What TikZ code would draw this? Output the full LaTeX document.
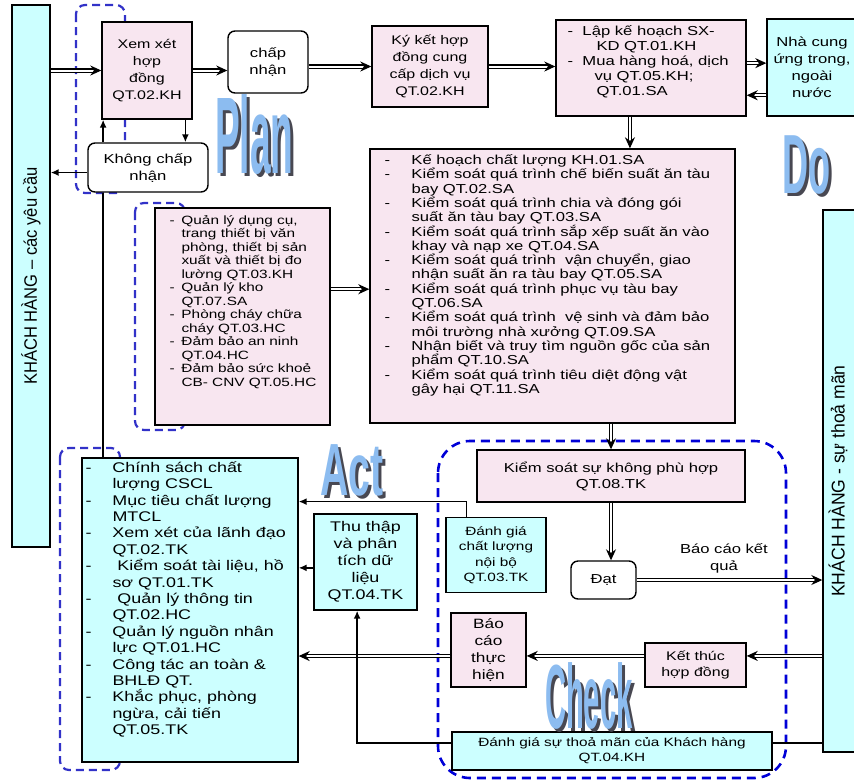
\documentclass[tikz,border=0pt]{standalone}
\usepackage{fontspec}
\setmainfont{Liberation Sans}[FakeStretch=1.28]
\newfontfamily\lbarfont{Liberation Sans}[FakeStretch=0.92]
\newfontfamily\rbarfont{Liberation Sans}[FakeStretch=0.95]
\newfontfamily\phasefont{Liberation Sans}
\usetikzlibrary{arrows.meta,calc}

\definecolor{pinkfill}{RGB}{248,230,240}
\definecolor{cyanfill}{RGB}{204,255,255}
\definecolor{phaseblue}{RGB}{140,188,240}
\definecolor{phaseshadow}{RGB}{72,72,82}
\definecolor{grpblue}{RGB}{50,50,200}
\definecolor{chkblue}{RGB}{0,0,215}

% list helpers: a dash in a fixed-width slot, and the matching hanging indent
\newcommand\bul[1]{\makebox[#1][l]{-}}
\newcommand\ind[1]{\hspace*{#1}}
\newcommand\fs[2]{\fontsize{#1}{#2}\selectfont}

\begin{document}
\begin{tikzpicture}[x=1pt, y=-1pt,
  box/.style={draw=black, line width=1.4pt, inner sep=0pt, align=center},
  pinkbox/.style={box, fill=pinkfill},
  cyanbox/.style={box, fill=cyanfill},
  roundbox/.style={box, fill=white, rounded corners=7pt},
  listtext/.style={anchor=north west, inner sep=0pt, align=left},
  bartext/.style={rotate=90, inner sep=0pt},
  grp/.style={draw=grpblue, line width=2.2pt, dash pattern=on 8pt off 5pt, rounded corners=9pt},
  chk/.style={draw=chkblue, line width=2.6pt, dash pattern=on 9pt off 6pt, rounded corners=32pt},
  dbl/.style={draw=black, line width=1.2pt, double=white, double distance=2pt, -{Stealth[length=11pt,width=10pt]}},
  arr/.style={draw=black, line width=1.5pt, -{Latex[length=8pt,width=7pt]}},
  ln/.style={draw=black, line width=1.5pt},
  phase/.style={anchor=base west, inner sep=0pt, font=\phasefont\bfseries},
]
\useasboundingbox (0,0) rectangle (854,780);
\fill[white] (0,0) rectangle (854,780);

% customer bars
\node[cyanbox, minimum width=38, minimum height=542] (lbar) at (31,276) {};
\node[bartext, font=\lbarfont\fs{18}{18}] (lbarlabel) at (lbar.center) {KHÁCH HÀNG – các yêu cầu};
\node[cyanbox, minimum width=34, minimum height=542] (rbar) at (840,481) {};
\node[bartext, font=\rbarfont\fs{18.5}{18.5}] (rbarlabel) at (838,481) {KHÁCH HÀNG - sự thoả mãn};

% dashed groupings
\draw[grp] (76,5) rectangle (125,193);
\draw[grp] (135,203) rectangle (185,430);
\draw[grp] (60,448) rectangle (120,770);
\draw[chk] (438,441) rectangle (786,778);

% Plan row
\node[pinkbox, minimum width=90, minimum height=97, font=\fs{12.5}{17}] (xem) at (147,70.5) {Xem xét\\hợp\\đồng\\QT.02.KH};
\node[roundbox, minimum width=80, minimum height=62, font=\fs{13}{17}] (acc) at (268,62) {chấp\\nhận};
\node[pinkbox, minimum width=116, minimum height=81, font=\fs{12.5}{17}] (ky) at (430,66.5) {Ký kết hợp\\đồng cung\\cấp dịch vụ\\QT.02.KH};
\node[pinkbox, minimum width=190, minimum height=96] (lap) at (651,68) {};
\node[listtext, font=\fs{13}{15}] (laptext) at ($(lap.north west)+(12,6)$) {\bul{15pt}Lập kế hoạch SX-\\\ind{29pt}KD QT.01.KH\\\bul{15pt}Mua hàng hoá, dịch\\\ind{27pt}vụ QT.05.KH;\\\ind{29pt}QT.01.SA};
\node[cyanbox, minimum width=90, minimum height=97, font=\fs{13}{17}] (nha) at (812,67.5) {Nhà cung\\ứng trong,\\ngoài\\nước};
\node[roundbox, minimum width=120, minimum height=49, font=\fs{13}{17}] (kcn) at (148,167.5) {Không chấp\\nhận};

% resources
\node[pinkbox, minimum width=175, minimum height=217] (ql) at (242.5,316.5) {};
\node[listtext, font=\fs{12}{13.5}] (qltext) at ($(ql.north west)+(15,8)$) {\bul{12pt}Quản lý dụng cụ,\\\ind{12pt}trang thiết bị văn\\\ind{12pt}phòng, thiết bị sản\\\ind{12pt}xuất và thiết bị đo\\\ind{12pt}lường QT.03.KH\\\bul{12pt}Quản lý kho\\\ind{12pt}QT.07.SA\\\bul{12pt}Phòng cháy chữa\\\ind{12pt}cháy QT.03.HC\\\bul{12pt}Đảm bảo an ninh\\\ind{12pt}QT.04.HC\\\bul{12pt}Đảm bảo sức khoẻ\\\ind{12pt}CB- CNV QT.05.HC};

% Do: production processes
\node[pinkbox, minimum width=365, minimum height=274] (kh) at (552.5,286) {};
\node[listtext, font=\fs{13}{14.3}] (khtext) at ($(kh.north west)+(15,6)$) {\bul{27pt}Kế hoạch chất lượng KH.01.SA\\\bul{27pt}Kiểm soát quá trình chế biến suất ăn tàu\\\ind{27pt}bay QT.02.SA\\\bul{27pt}Kiểm soát quá trình chia và đóng gói\\\ind{27pt}suất ăn tàu bay QT.03.SA\\\bul{27pt}Kiểm soát quá trình sắp xếp suất ăn vào\\\ind{27pt}khay và nạp xe QT.04.SA\\\bul{27pt}Kiểm soát quá trình \ vận chuyển, giao\\\ind{27pt}nhận suất ăn ra tàu bay QT.05.SA\\\bul{27pt}Kiểm soát quá trình phục vụ tàu bay\\\ind{27pt}QT.06.SA\\\bul{27pt}Kiểm soát quá trình \ vệ sinh và đảm bảo\\\ind{27pt}môi trường nhà xưởng QT.09.SA\\\bul{27pt}Nhận biết và truy tìm nguồn gốc của sản\\\ind{27pt}phẩm QT.10.SA\\\bul{27pt}Kiểm soát quá trình tiêu diệt động vật\\\ind{27pt}gây hại QT.11.SA};

% Check
\node[pinkbox, minimum width=268, minimum height=52, font=\fs{13}{16}] (ks) at (611,476) {Kiểm soát sự không phù hợp\\QT.08.TK};
\node[cyanbox, minimum width=100, minimum height=75, font=\fs{12}{15.5}] (dg) at (496,555) {Đánh giá\\chất lượng\\nội bộ\\QT.03.TK};
\node[roundbox, minimum width=65, minimum height=38, font=\fs{13}{16}] (dat) at (603.5,580) {Đạt};
\node[pinkbox, minimum width=75, minimum height=74, font=\fs{13.5}{17}] (bc) at (488.5,650) {Báo\\cáo\\thực\\hiện};
\node[pinkbox, minimum width=101, minimum height=44, font=\fs{12.5}{16}] (kt) at (695.5,665) {Kết thúc\\hợp đồng};
\node[cyanbox, minimum width=320, minimum height=38, font=\fs{12}{15}] (sa) at (612,751) {Đánh giá sự thoả mãn của Khách hàng\\QT.04.KH};

% Act
\node[cyanbox, minimum width=216, minimum height=304] (act) at (190,610) {};
\node[listtext, font=\fs{14}{16.4}] (acttext) at ($(act.north west)+(4,4)$) {\bul{27pt}Chính sách chất\\\ind{27pt}lượng CSCL\\\bul{27pt}Mục tiêu chất lượng\\\ind{27pt}MTCL\\\bul{27pt}Xem xét của lãnh đạo\\\ind{27pt}QT.02.TK\\\bul{27pt}\ Kiểm soát tài liệu, hồ\\\ind{27pt}sơ QT.01.TK\\\bul{27pt}\ Quản lý thông tin\\\ind{27pt}QT.02.HC\\\bul{27pt}Quản lý nguồn nhân\\\ind{27pt}lực QT.01.HC\\\bul{27pt}Công tác an toàn \&\\\ind{27pt}BHLĐ QT.\\\bul{27pt}Khắc phục, phòng\\\ind{27pt}ngừa, cải tiến\\\ind{27pt}QT.05.TK};
\node[cyanbox, minimum width=103, minimum height=96, font=\fs{14}{17}] (tt) at (365.5,562) {Thu thập\\và phân\\tích dữ\\liệu\\QT.04.TK};

% PDCA titles
\node[phase, text=phaseshadow, xscale=0.34] (planshadow) at (218,176) {\fs{109}{109}Plan};
\node[phase, text=phaseblue, xscale=0.34] (plan) at (215,173) {\fs{109}{109}Plan};
\node[phase, text=phaseshadow, xscale=0.43] (doshadow) at (785,196) {\fs{84}{84}Do};
\node[phase, text=phaseblue, xscale=0.43] (do) at (782,193) {\fs{84}{84}Do};
\node[phase, text=phaseshadow, xscale=0.53] (actshadow) at (323,498) {\fs{74}{74}Act};
\node[phase, text=phaseblue, xscale=0.53] (acttitle) at (320,495) {\fs{74}{74}Act};
\node[phase, text=phaseshadow, xscale=0.32] (checkshadow) at (548,731) {\fs{91}{91}Check};
\node[phase, text=phaseblue, xscale=0.32] (check) at (545,728) {\fs{91}{91}Check};

% connectors
\draw[dbl] (lbar.east |- xem.west) -- (xem.west);
\draw[dbl] (xem.east) -- (xem.east -| acc.west);
\draw[dbl] (acc.east |- ky.west) -- (ky.west);
\draw[dbl] (ky.east) -- (ky.east -| lap.west);
\coordinate (lapout) at ($(lap.north east)!0.45!(lap.south east)$);
\coordinate (lapin) at ($(lap.north east)!0.78!(lap.south east)$);
\draw[dbl] (lapout) -- (lapout -| nha.west);
\draw[dbl] (lapin -| nha.west) -- (lapin);
\coordinate (lapdown) at ($(lap.south west)!0.39!(lap.south east)$);
\draw[dbl] (lapdown) -- (lapdown |- kh.north);
\coordinate (xemdown) at ($(xem.south west)!0.92!(xem.south east)$);
\draw[arr] (xemdown) -- (xemdown |- kcn.north);
\coordinate (xemup) at ($(xem.south west)!0.02!(xem.south east)$);
\draw[arr] (xemup |- kcn.north) -- (xemup);
\draw[ln] (xemup |- act.north) -- (xemup |- kcn.south);
\coordinate (kcnout) at ($(kcn.north west)!0.6!(kcn.south west)$);
\draw[arr] (kcnout) -- (kcnout -| lbar.east);
\coordinate (qlout) at ($(ql.north east)!0.375!(ql.south east)$);
\draw[dbl] (qlout) -- (qlout -| kh.west);
\draw[dbl] (kh.south -| ks.north) -- (ks.north);
\draw[dbl] (ks.south) -- (ks.south |- dat.north);
\draw[dbl] (dat.east) -- node[pos=0.47, above=3pt, align=center, font=\fs{13}{17}] (baocao) {Báo cáo kết\\quả} (dat.east -| rbar.west);
\coordinate (ktin) at ($(kt.north east)!0.3!(kt.south east)$);
\draw[dbl] (ktin -| rbar.west) -- (ktin);
\draw[dbl] (ktin -| kt.west) -- (ktin -| bc.east);
\coordinate (bcout) at ($(bc.north west)!0.58!(bc.south west)$);
\draw[dbl] (bcout) -- (bcout -| act.east);
\coordinate (ttout) at ($(tt.north west)!0.56!(tt.south west)$);
\draw[arr] (ttout) -- (ttout -| act.east);
\draw[arr] ($(dg.north west)!0.21!(dg.north east)$) |- ($(act.north east)!0.145!(act.south east)$);
\coordinate (sain) at ($(sa.north east)!0.3!(sa.south east)$);
\draw[ln] (sain -| rbar.west) -- (sain);
\draw[arr] (sain -| sa.west) -| ($(tt.south west)!0.42!(tt.south east)$);
\end{tikzpicture}
\end{document}
